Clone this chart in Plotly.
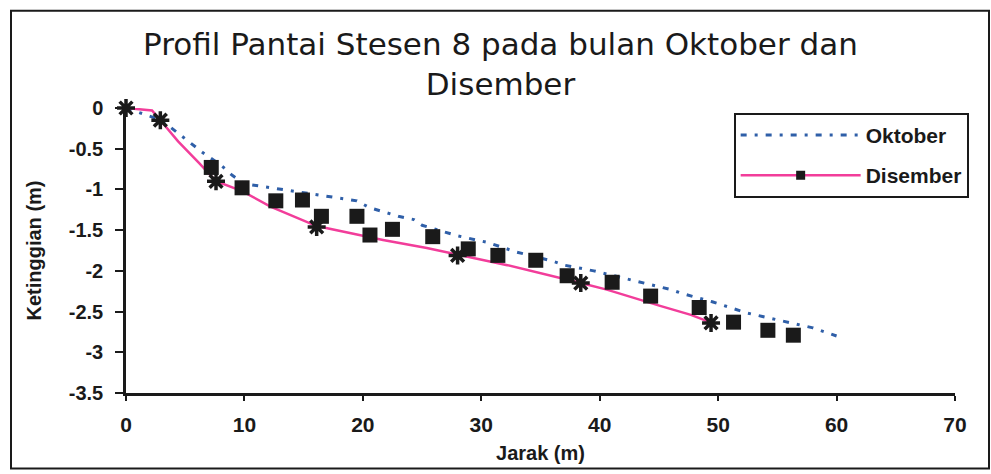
import plotly.graph_objects as go

# Beach profile, station 8: October vs December survey
oktober_x = [0, 3, 6.5, 8, 9, 10, 19.5, 20.5, 23, 24.3, 25, 28, 30.5, 33, 36, 37,
             39.5, 43, 46, 47, 49.5, 52.5, 55, 58, 60]
oktober_y = [0, -0.15, -0.55, -0.7, -0.83, -0.93, -1.14, -1.22, -1.33, -1.37, -1.44,
             -1.57, -1.65, -1.77, -1.88, -1.93, -2.0, -2.12, -2.23, -2.28, -2.38,
             -2.52, -2.6, -2.7, -2.8]

disember_x = [0, 2.2, 2.9, 4.4, 6.2, 7.6, 9.8, 12.2, 16.1, 21.7, 25.4, 28, 32.2,
              38.4, 40.6, 45.1, 47.7, 49.3]
disember_y = [0, -0.03, -0.15, -0.41, -0.68, -0.9, -1.02, -1.21, -1.45, -1.62,
              -1.72, -1.8, -1.93, -2.15, -2.23, -2.43, -2.54, -2.63]

bintang_x = [0, 2.9, 7.6, 16.1, 28, 38.4, 49.4]
bintang_y = [0, -0.15, -0.9, -1.46, -1.81, -2.15, -2.64]

segi_x = [7.2, 9.8, 12.65, 14.9, 16.5, 19.5, 20.6, 22.5, 25.9, 28.9, 31.4, 34.6,
          37.25, 41.05, 44.3, 48.4, 51.3, 54.2, 56.35]
segi_y = [-0.73, -0.98, -1.14, -1.13, -1.33, -1.33, -1.56, -1.49, -1.58, -1.73,
          -1.81, -1.87, -2.06, -2.14, -2.31, -2.45, -2.63, -2.73, -2.79]

x_ticks = [0, 10, 20, 30, 40, 50, 60, 70]
y_ticks = [0, -0.5, -1, -1.5, -2, -2.5, -3, -3.5]
y_tick_text = ["0", "-0.5", "-1", "-1.5", "-2", "-2.5", "-3", "-3.5"]

BLUE = "#2f5fa8"
PINK = "#f23d9a"
INK = "#1a1a1a"
FONT = "Liberation Sans, Arial, sans-serif"
TITLE_FONT = "DejaVu Sans, Verdana, sans-serif"

fig = go.Figure()

fig.add_trace(go.Scatter(
    x=oktober_x, y=oktober_y, mode="lines", name="Oktober", legendgroup="okt",
    line=dict(color=BLUE, width=3, dash="6px,8px,3px,8px"),
))
fig.add_trace(go.Scatter(
    x=disember_x, y=disember_y, mode="lines", name="Disember",
    line=dict(color=PINK, width=2.5), showlegend=False,
))
fig.add_trace(go.Scatter(
    x=segi_x, y=segi_y, mode="markers", showlegend=False, cliponaxis=False,
    marker=dict(symbol="square", size=15, color=INK),
))
fig.add_trace(go.Scatter(
    x=bintang_x, y=bintang_y, mode="markers", showlegend=False, cliponaxis=False,
    marker=dict(symbol="asterisk-open", size=15, color=INK,
                line=dict(color=INK, width=3.5)),
))
# legend entry for December: pink line with a square marker
fig.add_trace(go.Scatter(
    x=[None], y=[None], mode="lines+markers", name="Disember", legendgroup="dis",
    line=dict(color=PINK, width=2.5),
    marker=dict(symbol="square", size=9, color=INK),
))

fig.update_layout(
    width=991, height=474,
    margin=dict(l=126, r=36, t=108, b=79),
    paper_bgcolor="white", plot_bgcolor="white",
    font=dict(family=FONT, color=INK),
    title=dict(
        text="Profil Pantai Stesen 8 pada bulan Oktober dan<br>Disember",
        xref="container", x=0.505, xanchor="center",
        yref="container", y=1 - 55 / 474, yanchor="top",
        font=dict(size=31, family=TITLE_FONT, color=INK),
    ),
    legend=dict(
        x=0.733, y=0.983, xanchor="left", yanchor="top",
        bgcolor="white", bordercolor=INK, borderwidth=2,
        font=dict(size=21, family=FONT, color=INK, weight="bold"),
        itemwidth=120, tracegroupgap=10,
    ),
    xaxis=dict(
        range=[0, 70], tickvals=x_ticks, ticks="outside", ticklen=5, tickwidth=2,
        tickcolor=INK, showline=True, linecolor=INK, linewidth=2.5,
        showgrid=False, zeroline=False, ticklabelstandoff=6,
        tickfont=dict(size=21, family=FONT, color=INK, weight="bold"),
        title=dict(text="Jarak (m)",
                   font=dict(size=20, family=FONT, color=INK, weight="bold"),
                   standoff=12),
    ),
    yaxis=dict(
        range=[-3.5, 0], tickvals=y_ticks, ticktext=y_tick_text,
        ticks="outside", ticklen=8, tickwidth=2, tickcolor=INK,
        showline=True, linecolor=INK, linewidth=2.5,
        showgrid=False, zeroline=False, ticklabelstandoff=8,
        tickfont=dict(size=20, family=FONT, color=INK, weight="bold"),
        title=dict(text="Ketinggian (m)",
                   font=dict(size=20, family=FONT, color=INK, weight="bold"),
                   standoff=22),
    ),
    shapes=[dict(
        type="rect", xref="paper", yref="paper",
        x0=(11 - 126) / 829, x1=(989 - 126) / 829,
        y0=(395 - 471) / 287, y1=(395 - 10) / 287,
        line=dict(color=INK, width=2), fillcolor="rgba(0,0,0,0)", layer="below",
    )],
)

fig.write_html("out.html")
